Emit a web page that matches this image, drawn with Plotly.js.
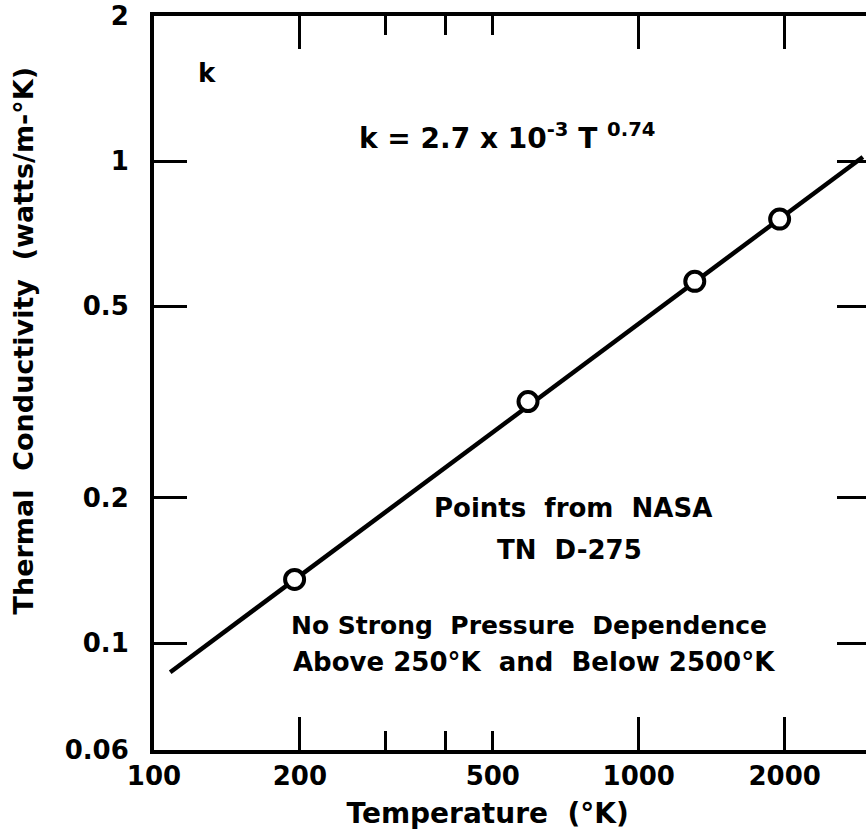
<!DOCTYPE html>
<html>
<head>
<meta charset="utf-8">
<script src="https://cdn.plot.ly/plotly-3.0.1.min.js"></script>
<style>
  html, body { margin: 0; padding: 0; background: #fff; overflow: hidden; }
  #chart { width: 880px; height: 836px; }
</style>
</head>
<body>
<div id="chart"></div>
<script>
// Data
const pointTemps = [195, 591, 1305, 1953];          // K
const pointK     = [0.1355, 0.317, 0.563, 0.758];   // W/(m·K)
const fitTemps   = [108, 2900];
const fitK       = [0.087, 1.02];

const xLabelVals = [100, 200, 500, 1000, 2000];
const xLabelText = ['100', '200', '500', '1000', '2000'];
const xMajorTicks = [200, 1000, 2000];
const xMinorTicks = [300, 400, 500];
const yTickVals = [0.06, 0.1, 0.2, 0.5, 1, 2];
const yTickText = ['0.06', '0.1', '0.2', '0.5', '1', '2'];

const FONT = 'DejaVu Sans, sans-serif';
const NB = '\u00A0';
const ZW = '\u200B';
const xRange = [Math.log10(100), Math.log10(3000)];
const yRange = [Math.log10(0.06), Math.log10(2)];

const traces = [
  { x: fitTemps, y: fitK, mode: 'lines', line: {color: '#000', width: 4.5},
    hoverinfo: 'skip', showlegend: false },
  { x: pointTemps, y: pointK, mode: 'markers',
    marker: {symbol: 'circle', size: 19, color: '#fff', line: {color: '#000', width: 4}},
    showlegend: false },
  { x: xMajorTicks, y: [0.06, 0.06, 0.06], xaxis: 'x2', yaxis: 'y', mode: 'markers',
    marker: {opacity: 0}, hoverinfo: 'skip', showlegend: false },
  { x: xMinorTicks, y: [0.06, 0.06, 0.06], xaxis: 'x3', yaxis: 'y', mode: 'markers',
    marker: {opacity: 0}, hoverinfo: 'skip', showlegend: false }
];

const ann = (text, x, y, size) => ({
  text, x, y, xref: 'paper', yref: 'paper', showarrow: false,
  xanchor: 'center', yanchor: 'middle',
  font: {family: FONT, size: size || 26, color: '#000', weight: 'bold'}
});

const layout = {
  width: 880, height: 836,
  margin: {l: 154, r: 10, t: 16, b: 86},
  paper_bgcolor: '#fff', plot_bgcolor: '#fff',
  font: {family: FONT, color: '#000'},
  xaxis: {
    type: 'log', range: xRange,
    tickvals: xLabelVals, ticktext: xLabelText, ticks: '',
    tickfont: {family: FONT, size: 26, weight: 'bold'},
    showline: true, linewidth: 4, linecolor: '#000', mirror: true,
    showgrid: false, zeroline: false,
    title: {text: 'Temperature' + NB + NB + '(°K)' + NB.repeat(5) + ZW,
            font: {family: FONT, size: 28, weight: 'bold'}, standoff: 14}
  },
  xaxis2: {
    type: 'log', range: xRange, overlaying: 'x', side: 'bottom',
    tickvals: xMajorTicks, showticklabels: false,
    ticks: 'inside', ticklen: 33, tickwidth: 3, tickcolor: '#000', mirror: 'ticks',
    showline: false, showgrid: false, zeroline: false
  },
  xaxis3: {
    type: 'log', range: xRange, overlaying: 'x', side: 'bottom',
    tickvals: xMinorTicks, showticklabels: false,
    ticks: 'inside', ticklen: 19, tickwidth: 3, tickcolor: '#000', mirror: 'ticks',
    showline: false, showgrid: false, zeroline: false
  },
  yaxis: {
    type: 'log', range: yRange,
    tickvals: yTickVals, ticktext: yTickText,
    ticks: 'inside', ticklen: 33, tickwidth: 3, tickcolor: '#000',
    tickfont: {family: FONT, size: 26, weight: 'bold'},
    ticklabelstandoff: 16,
    showline: true, linewidth: 4, linecolor: '#000', mirror: 'ticks',
    showgrid: false, zeroline: false,
    title: {text: ZW + NB.repeat(9) + 'Thermal' + NB + NB + 'Conductivity' + NB + NB + '(watts/m-°K)',
            font: {family: FONT, size: 27, weight: 'bold'}, standoff: 24}
  },
  annotations: [
    ann('k', 0.074, 0.922),
    ann('k = 2.7 x 10<sup>-3</sup> T <sup>0.74</sup>', 0.493, 0.836, 28),
    ann('Points  from  NASA', 0.585, 0.330),
    ann('TN  D-275', 0.581, 0.272),
    ann('No Strong  Pressure  Dependence', 0.524, 0.170, 25),
    ann('Above 250°K  and  Below 2500°K', 0.531, 0.120)
  ]
};

Plotly.newPlot('chart', traces, layout, {displayModeBar: false, staticPlot: true});
</script>
</body>
</html>
